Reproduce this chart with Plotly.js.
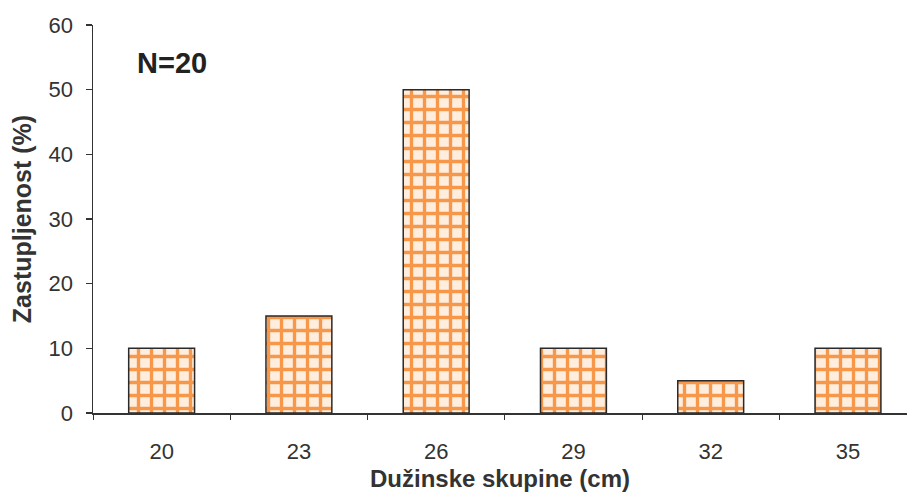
<!DOCTYPE html>
<html><head><meta charset="utf-8">
<script src="https://cdn.plot.ly/plotly-3.0.1.min.js"></script>
<style>html,body{margin:0;padding:0;background:#fff;}#chart{width:907px;height:492px;}</style>
</head><body><div id="chart"></div>
<script>
const categories = ["20", "23", "26", "29", "32", "35"];
const values = [10, 15, 50, 10, 5, 10];
const yTicks = [0, 10, 20, 30, 40, 50, 60];
const xTitle = "Dužinske skupine (cm)";
const yTitle = "Zastupljenost (%)";
const note = "N=20";

const trace = {
  type: "bar",
  x: categories,
  y: values,
  width: 0.48,
  marker: {
    color: "#fbd2ad",
    line: {color: "#2a2a2a", width: 1.5},
    pattern: {shape: "+", size: 13, solidity: 0.45, fgcolor: "#f7974a", bgcolor: "#ffeede", fillmode: "replace"}
  },
  hoverinfo: "none"
};

const layout = {
  width: 907, height: 492,
  margin: {l: 93, r: 0, t: 25, b: 79},
  paper_bgcolor: "#fff", plot_bgcolor: "#fff",
  showlegend: false,
  font: {family: "Liberation Sans, Arial, sans-serif", color: "#333", size: 20},
  xaxis: {
    type: "category",
    range: [-0.5, 5.43],
    showline: true, linecolor: "#333", linewidth: 1.5,
    ticks: "outside", tickson: "boundaries", ticklen: 5, tickcolor: "#333", tickwidth: 1,
    showgrid: false, zeroline: false,
    tickfont: {size: 22, color: "#333"},
    ticklabelstandoff: 18,
    title: {text: "<b>" + xTitle + "</b>", font: {size: 24, color: "#333"}, standoff: 12}
  },
  yaxis: {
    range: [0, 60],
    tickvals: yTicks,
    showline: true, linecolor: "#333", linewidth: 1.5,
    ticks: "outside", ticklen: 6, tickcolor: "#333", tickwidth: 1.5,
    showgrid: false, zeroline: false,
    tickfont: {size: 22, color: "#333"},
    ticklabelstandoff: 8,
    title: {text: "<b>" + yTitle + "</b>", font: {size: 25, color: "#333"}, standoff: 10}
  },
  annotations: [{
    xref: "paper", yref: "y", x: 0.097, y: 54.2,
    xanchor: "center", yanchor: "middle",
    text: "<b>" + note + "</b>", showarrow: false,
    font: {size: 29, color: "#222"}
  }]
};

Plotly.newPlot("chart", [trace], layout, {staticPlot: true, displayModeBar: false});
</script>
</body></html>
